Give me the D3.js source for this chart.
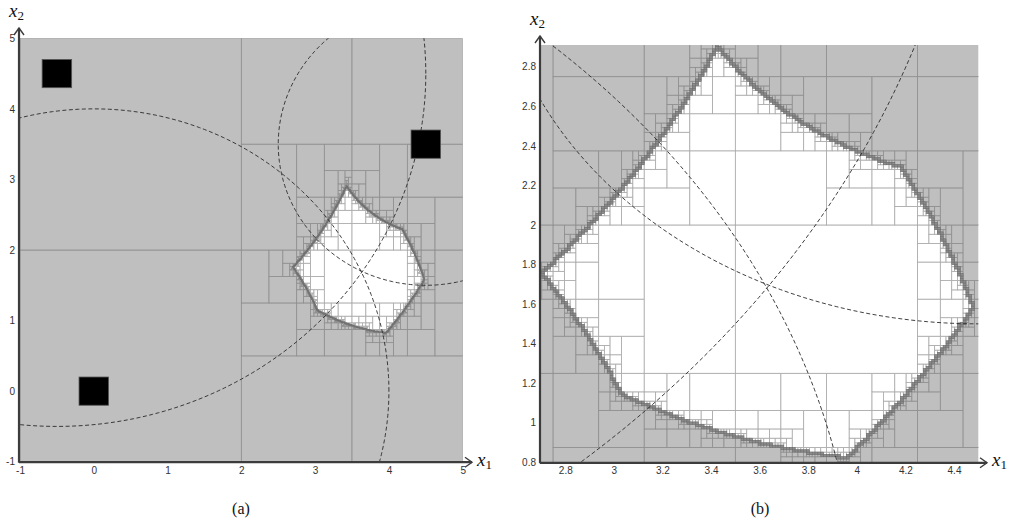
<!DOCTYPE html>
<html><head><meta charset="utf-8">
<script src="https://cdn.jsdelivr.net/npm/d3@7"></script>
<style>body{margin:0;background:#fff}svg{display:block}</style>
</head><body>
<script>
// ---- data ----
const beaconX = [-0.5, 0, 4.5];
const beaconY = [4.5, 0, 3.5];
const beaconHalf = [0.2, 0.2, 0.2];
const measuredRange = [5, 4, 2];
const rangeError = [0.5, 0.5, 0.5];
const initBoxX = [-1, 5];
const initBoxY = [-1, 5];
const epsilon = 0.015;
const ticksA = [-1, 0, 1, 2, 3, 4, 5];
const ticksBx = [2.8, 3, 3.2, 3.4, 3.6, 3.8, 4, 4.2, 4.4];
const ticksBy = [0.8, 1, 1.2, 1.4, 1.6, 1.8, 2, 2.2, 2.4, 2.6, 2.8];
const domainAx = [-1, 5], domainAy = [-1, 5];
const domainBx = [2.7, 4.5], domainBy = [0.8, 2.91];
const captions = ["(a)", "(b)"];

// ---- SIVIA paving ----
function gRange(lo, hi, blo, bhi) {
  const mn = hi < blo ? blo - hi : (lo > bhi ? lo - bhi : 0);
  const mx = Math.max(0, blo - lo, hi - bhi);
  return [mn, mx];
}
function hRange(lo, hi, blo, bhi) {
  const c = (blo + bhi) / 2, w2 = (bhi - blo) / 2;
  const a = Math.abs(lo - c), b = Math.abs(hi - c);
  const mn = (lo <= c && c <= hi) ? 0 : Math.min(a, b);
  return [mn + w2, Math.max(a, b) + w2];
}
function classify(b) {
  let allIn = true;
  for (let i = 0; i < beaconX.length; i++) {
    const bx0 = beaconX[i] - beaconHalf[i], bx1 = beaconX[i] + beaconHalf[i];
    const by0 = beaconY[i] - beaconHalf[i], by1 = beaconY[i] + beaconHalf[i];
    const g1 = gRange(b.x0, b.x1, bx0, bx1), g2 = gRange(b.y0, b.y1, by0, by1);
    const h1 = hRange(b.x0, b.x1, bx0, bx1), h2 = hRange(b.y0, b.y1, by0, by1);
    const dLo = Math.hypot(g1[0], g2[0]), dHi = Math.hypot(g1[1], g2[1]);
    const fLo = Math.hypot(h1[0], h2[0]), fHi = Math.hypot(h1[1], h2[1]);
    const rHi = measuredRange[i] + rangeError[i], rLo = measuredRange[i] - rangeError[i];
    if (dLo > rHi || fHi < rLo) return "out";
    if (!(dHi <= rHi && fLo >= rLo)) allIn = false;
  }
  return allIn ? "in" : "unk";
}
const boxes = [];
(function sivia(b) {
  const c = classify(b);
  if (c !== "unk") { b.type = c; boxes.push(b); return; }
  const wx = b.x1 - b.x0, wy = b.y1 - b.y0;
  if (Math.max(wx, wy) < epsilon) { b.type = "bnd"; boxes.push(b); return; }
  if (wx >= wy) {
    const m = (b.x0 + b.x1) / 2;
    sivia({x0: b.x0, x1: m, y0: b.y0, y1: b.y1});
    sivia({x0: m, x1: b.x1, y0: b.y0, y1: b.y1});
  } else {
    const m = (b.y0 + b.y1) / 2;
    sivia({x0: b.x0, x1: b.x1, y0: b.y0, y1: m});
    sivia({x0: b.x0, x1: b.x1, y0: m, y1: b.y1});
  }
})({x0: initBoxX[0], x1: initBoxX[1], y0: initBoxY[0], y1: initBoxY[1]});

const fillOf = {out: "#bfbfbf", in: "#ffffff", bnd: "#8c8c8c"};
const strokeOf = {out: "#8e8e8e", in: "#a9a9a9", bnd: "#6e6e6e"};

const svg = d3.select("body").append("svg").attr("width", 1012).attr("height", 523);

const panels = [
  {id: "a", sx: d3.scaleLinear(domainAx, [20, 462.7]), sy: d3.scaleLinear(domainAy, [461.7, 38.3]),
   tx: ticksA, ty: ticksA, beacons: true, yTip: 28, xTip: 472, cap: [241, 514]},
  {id: "b", sx: d3.scaleLinear(domainBx, [541, 978.3]), sy: d3.scaleLinear(domainBy, [462.3, 45]),
   tx: ticksBx, ty: ticksBy, beacons: false, yTip: 36, xTip: 987, cap: [760, 514]}
];

panels.forEach((p, pi) => {
  const {sx, sy} = p;
  const X0 = sx.range()[0], X1 = sx.range()[1], Y0 = sy.range()[1], Y1 = sy.range()[0];
  svg.append("clipPath").attr("id", "clip" + p.id).append("rect")
    .attr("x", X0).attr("y", Y0).attr("width", X1 - X0).attr("height", Y1 - Y0);
  const g = svg.append("g").attr("clip-path", `url(#clip${p.id})`);
  const dx = sx.domain(), dy = sy.domain();
  const vis = boxes.filter(b => b.x1 > dx[0] && b.x0 < dx[1] && b.y1 > dy[0] && b.y0 < dy[1]);
  const order = {out: 0, in: 1, bnd: 2};
  vis.sort((a, b) => order[a.type] - order[b.type]);
  g.selectAll("rect.box").data(vis).join("rect").attr("class", "box")
    .attr("x", b => sx(b.x0)).attr("y", b => sy(b.y1))
    .attr("width", b => sx(b.x1) - sx(b.x0)).attr("height", b => sy(b.y0) - sy(b.y1))
    .attr("fill", b => fillOf[b.type]).attr("stroke", b => strokeOf[b.type])
    .attr("stroke-width", b => b.type === "bnd" ? 0.6 : 0.8);

  // dashed circles of measured range
  const angles = d3.range(0, 360, 1).map(d => d * Math.PI / 180);
  measuredRange.forEach((r, i) => {
    const line = d3.line()
      .x(a => sx(beaconX[i] + r * Math.cos(a)))
      .y(a => sy(beaconY[i] + r * Math.sin(a)))
      .curve(d3.curveLinearClosed);
    g.append("path").attr("d", line(angles)).attr("fill", "none")
      .attr("stroke", "#2a2a2a").attr("stroke-width", 0.9).attr("stroke-dasharray", "4,2.5");
  });

  if (p.beacons) {
    g.selectAll("rect.beacon").data(beaconX.map((x, i) => i)).join("rect").attr("class", "beacon")
      .attr("x", i => sx(beaconX[i] - beaconHalf[i])).attr("y", i => sy(beaconY[i] + beaconHalf[i]))
      .attr("width", i => sx(beaconX[i] + beaconHalf[i]) - sx(beaconX[i] - beaconHalf[i]))
      .attr("height", i => sy(beaconY[i] - beaconHalf[i]) - sy(beaconY[i] + beaconHalf[i]))
      .attr("fill", "#000").attr("stroke", "#555").attr("stroke-width", 0.8);
  }

  // tick labels
  const fmt = d => String(d);
  const ay = svg.append("g").attr("transform", `translate(${X0 - 1},0)`)
    .call(d3.axisLeft(sy).tickValues(p.ty).tickSize(0).tickPadding(4).tickFormat(fmt));
  const ax = svg.append("g").attr("transform", `translate(0,${Y1})`)
    .call(d3.axisBottom(sx).tickValues(p.tx).tickSize(0).tickPadding(5).tickFormat(fmt));
  [ax, ay].forEach(a => {
    a.select(".domain").remove();
    a.selectAll("text").attr("font-family", "'Liberation Sans Narrow','Liberation Sans',Arial,sans-serif")
      .attr("font-size", 10).attr("fill", "#333");
  });

  // axis lines with arrows
  const axc = "#3c3c3c";
  svg.append("line").attr("x1", X0 - 1).attr("y1", Y1 + 1).attr("x2", X0 - 1).attr("y2", p.yTip)
    .attr("stroke", axc).attr("stroke-width", 2.2);
  svg.append("line").attr("x1", X0 - 1).attr("y1", Y1 + 0.5).attr("x2", p.xTip).attr("y2", Y1 + 0.5)
    .attr("stroke", axc).attr("stroke-width", 2.2);
  svg.append("path").attr("d", `M${X0 - 6},${p.yTip + 7}L${X0 - 1},${p.yTip}L${X0 + 4},${p.yTip + 7}`)
    .attr("fill", "none").attr("stroke", axc).attr("stroke-width", 1.4);
  svg.append("path").attr("d", `M${p.xTip - 7},${Y1 - 4.5}L${p.xTip},${Y1 + 0.5}L${p.xTip - 7},${Y1 + 5.5}`)
    .attr("fill", "none").attr("stroke", axc).attr("stroke-width", 1.4);

  // math labels
  const mathLabel = (x, y, sub) => {
    const t = svg.append("text").attr("x", x).attr("y", y)
      .attr("font-family", "'Liberation Serif','DejaVu Serif',serif").attr("fill", "#111");
    t.append("tspan").attr("font-style", "italic").attr("font-size", 19).text("x");
    t.append("tspan").attr("font-size", 13).attr("dy", 3).text(sub);
  };
  mathLabel(X0 - 11, p.yTip - 11, "2");
  mathLabel(p.xTip + 5, Y1 + 4, "1");

  svg.append("text").attr("x", p.cap[0]).attr("y", p.cap[1]).attr("text-anchor", "middle")
    .attr("font-family", "'Liberation Serif',serif").attr("font-size", 16).attr("fill", "#111")
    .text(captions[pi]);
});
</script>
</body></html>
